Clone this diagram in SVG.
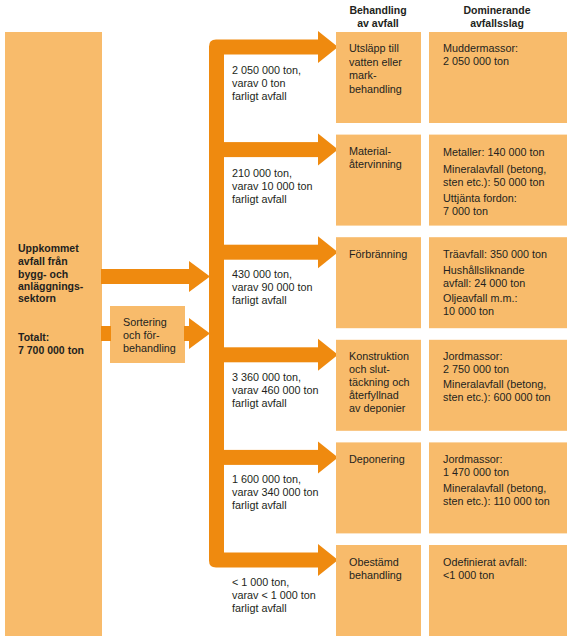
<svg xmlns="http://www.w3.org/2000/svg" width="573" height="640" viewBox="0 0 573 640">
<defs>
<style>
.box{fill:#F8BB6B}
.arr{fill:#EF8A0F}
text{font-family:"Liberation Sans",Arial,sans-serif;font-size:10.8px;fill:#231F20}
.b{font-weight:bold;font-size:10.5px}
.h{font-weight:bold;font-size:10.5px;text-anchor:middle}
</style>
</defs>
<rect width="573" height="640" fill="#fff"/>
<g id="headers">
<text class="h" x="378" y="14">Behandling</text>
<text class="h" x="378" y="27">av avfall</text>
<text class="h" x="497" y="14">Dominerande</text>
<text class="h" x="497" y="27">avfallsslag</text>
</g>
<g id="source">
<rect class="box" x="5" y="32" width="97" height="604"/>
<text class="b" x="18"><tspan x="18" y="252">Uppkommet</tspan><tspan x="18" y="265">avfall från</tspan><tspan x="18" y="278">bygg- och</tspan><tspan x="18" y="290">anläggnings-</tspan><tspan x="18" y="302">sektorn</tspan><tspan x="18" y="341">Totalt:</tspan><tspan x="18" y="354">7 700 000 ton</tspan></text>
</g>
<g id="sorting">
<rect class="box" x="110" y="306" width="75" height="57"/>
<text x="123"><tspan x="123" y="326">Sortering</tspan><tspan x="123" y="339">och för-</tspan><tspan x="123" y="352">behandling</tspan></text>
</g>
<g id="connectors">
<path class="arr" d="M216 39.5H319V54.5H224V552.5H319V567.5H216Q209 567.5 209 560.5V46.5Q209 39.5 216 39.5Z"/>
<rect class="arr" x="223" y="142.1" width="96" height="15"/>
<rect class="arr" x="223" y="244.7" width="96" height="15"/>
<rect class="arr" x="223" y="347.3" width="96" height="15"/>
<rect class="arr" x="223" y="449.9" width="96" height="15"/>
<polygon class="arr" points="318,31 338,47 318,63"/>
<polygon class="arr" points="318,133.6 338,149.6 318,165.6"/>
<polygon class="arr" points="318,236.2 338,252.2 318,268.2"/>
<polygon class="arr" points="318,338.8 338,354.8 318,370.8"/>
<polygon class="arr" points="318,441.4 338,457.4 318,473.4"/>
<polygon class="arr" points="318,544 338,560 318,576"/>
<rect class="arr" x="101" y="269" width="90" height="15"/>
<polygon class="arr" points="189,261 210,276.5 189,292"/>
<rect class="arr" x="101" y="326" width="10" height="15"/>
<rect class="arr" x="184" y="326" width="7" height="15"/>
<polygon class="arr" points="189,318 210,333.5 189,349"/>
</g>
<g id="flow-labels">
<text><tspan x="232" y="74">2 050 000 ton,</tspan><tspan x="232" y="87">varav 0 ton</tspan><tspan x="232" y="100">farligt avfall</tspan></text>
<text><tspan x="232" y="177">210 000 ton,</tspan><tspan x="232" y="190">varav 10 000 ton</tspan><tspan x="232" y="203">farligt avfall</tspan></text>
<text><tspan x="232" y="278">430 000 ton,</tspan><tspan x="232" y="291">varav 90 000 ton</tspan><tspan x="232" y="304">farligt avfall</tspan></text>
<text><tspan x="232" y="381">3 360 000 ton,</tspan><tspan x="232" y="394">varav 460 000 ton</tspan><tspan x="232" y="407">farligt avfall</tspan></text>
<text><tspan x="232" y="483">1 600 000 ton,</tspan><tspan x="232" y="496">varav 340 000 ton</tspan><tspan x="232" y="509">farligt avfall</tspan></text>
<text><tspan x="232" y="586">&lt; 1 000 ton,</tspan><tspan x="232" y="599">varav &lt; 1 000 ton</tspan><tspan x="232" y="612">farligt avfall</tspan></text>
</g>
<g id="t1">
<rect class="box" x="336" y="32" width="85" height="91"/>
<text><tspan x="349" y="52">Utsläpp till</tspan><tspan x="349" y="65.5">vatten eller</tspan><tspan x="349" y="79">mark-</tspan><tspan x="349" y="92.5">behandling</tspan></text>
</g>
<g id="d1">
<rect class="box" x="429" y="32" width="138" height="91"/>
<text><tspan x="443" y="52">Muddermassor:</tspan><tspan x="443" y="65">2 050 000 ton</tspan></text>
</g>
<g id="t2">
<rect class="box" x="336" y="134.6" width="85" height="91"/>
<text><tspan x="349" y="155">Material-</tspan><tspan x="349" y="168">återvinning</tspan></text>
</g>
<g id="d2">
<rect class="box" x="429" y="134.6" width="138" height="91"/>
<text><tspan x="443" y="156">Metaller: 140 000 ton</tspan><tspan x="443" y="173">Mineralavfall (betong,</tspan><tspan x="443" y="186">sten etc.): 50 000 ton</tspan><tspan x="443" y="202">Uttjänta fordon:</tspan><tspan x="443" y="215">7 000 ton</tspan></text>
</g>
<g id="t3">
<rect class="box" x="336" y="237.2" width="85" height="91"/>
<text><tspan x="349" y="258">Förbränning</tspan></text>
</g>
<g id="d3">
<rect class="box" x="429" y="237.2" width="138" height="91"/>
<text><tspan x="443" y="258">Träavfall: 350 000 ton</tspan><tspan x="443" y="274">Hushållsliknande</tspan><tspan x="443" y="287">avfall: 24 000 ton</tspan><tspan x="443" y="302">Oljeavfall m.m.:</tspan><tspan x="443" y="315">10 000 ton</tspan></text>
</g>
<g id="t4">
<rect class="box" x="336" y="339.8" width="85" height="91"/>
<text><tspan x="349" y="360">Konstruktion</tspan><tspan x="349" y="373">och slut-</tspan><tspan x="349" y="386">täckning och</tspan><tspan x="349" y="399">återfyllnad</tspan><tspan x="349" y="412">av deponier</tspan></text>
</g>
<g id="d4">
<rect class="box" x="429" y="339.8" width="138" height="91"/>
<text><tspan x="443" y="360">Jordmassor:</tspan><tspan x="443" y="373">2 750 000 ton</tspan><tspan x="443" y="388">Mineralavfall (betong,</tspan><tspan x="443" y="401">sten etc.): 600 000 ton</tspan></text>
</g>
<g id="t5">
<rect class="box" x="336" y="442.4" width="85" height="91"/>
<text><tspan x="349" y="463">Deponering</tspan></text>
</g>
<g id="d5">
<rect class="box" x="429" y="442.4" width="138" height="91"/>
<text><tspan x="443" y="463">Jordmassor:</tspan><tspan x="443" y="476">1 470 000 ton</tspan><tspan x="443" y="492">Mineralavfall (betong,</tspan><tspan x="443" y="505">sten etc.): 110 000 ton</tspan></text>
</g>
<g id="t6">
<rect class="box" x="336" y="545" width="85" height="91"/>
<text><tspan x="349" y="566">Obestämd</tspan><tspan x="349" y="579">behandling</tspan></text>
</g>
<g id="d6">
<rect class="box" x="429" y="545" width="138" height="91"/>
<text><tspan x="443" y="566">Odefinierat avfall:</tspan><tspan x="443" y="579">&lt;1 000 ton</tspan></text>
</g>
</svg>
